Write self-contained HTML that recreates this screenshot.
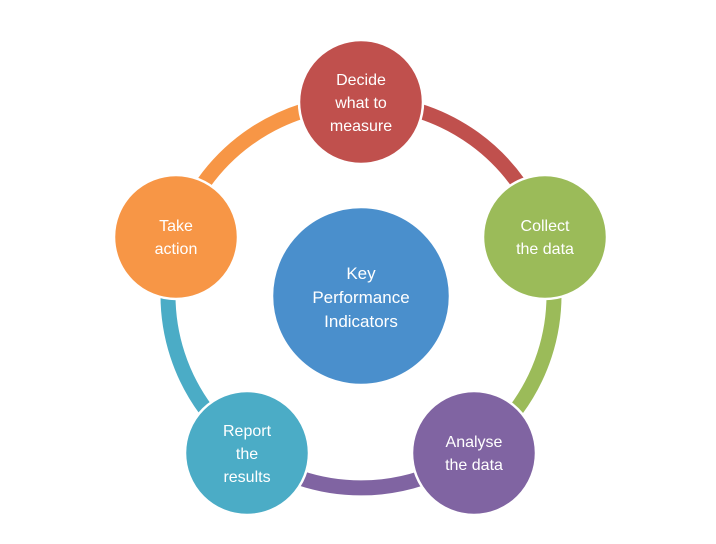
<!DOCTYPE html>
<html><head><meta charset="utf-8"><style>
html,body{margin:0;padding:0;background:#fff;}
svg{display:block;}
text{font-family:"Liberation Sans",sans-serif;font-size:16px;fill:#fff;text-anchor:middle;}
</style></head><body>
<svg width="716" height="544" viewBox="0 0 716 544">
<g fill="none" stroke-width="15">
<path d="M361,102 A193,193 0 0 1 544.6,235.4" stroke="#c0504d"/>
<path d="M544.6,235.4 A193,193 0 0 1 474.4,451.1" stroke="#9bbb59"/>
<path d="M474.4,451.1 A193,193 0 0 1 247.6,451.1" stroke="#8064a2"/>
<path d="M247.6,451.1 A193,193 0 0 1 177.4,235.4" stroke="#4bacc6"/>
<path d="M177.4,235.4 A193,193 0 0 1 361,102" stroke="#f79646"/>
</g>
<g stroke="#fff" stroke-width="2.5">
<circle cx="361" cy="102" r="62" fill="#c0504d"/>
<circle cx="545" cy="237" r="62" fill="#9bbb59"/>
<circle cx="474" cy="453" r="62" fill="#8064a2"/>
<circle cx="247" cy="453" r="62" fill="#4bacc6"/>
<circle cx="176" cy="237" r="62" fill="#f79646"/>
<circle cx="361" cy="296" r="89" fill="#4a8fcc"/>
</g>
<text x="361" y="85">Decide</text>
<text x="361" y="108">what to</text>
<text x="361" y="131">measure</text>
<text x="545" y="231">Collect</text>
<text x="545" y="254">the data</text>
<text x="474" y="447">Analyse</text>
<text x="474" y="470">the data</text>
<text x="247" y="436">Report</text>
<text x="247" y="459">the</text>
<text x="247" y="482">results</text>
<text x="176" y="231">Take</text>
<text x="176" y="254">action</text>
<text x="361" y="279" style="font-size:17px">Key</text>
<text x="361" y="303" style="font-size:17px">Performance</text>
<text x="361" y="327" style="font-size:17px">Indicators</text>
</svg>
</body></html>
